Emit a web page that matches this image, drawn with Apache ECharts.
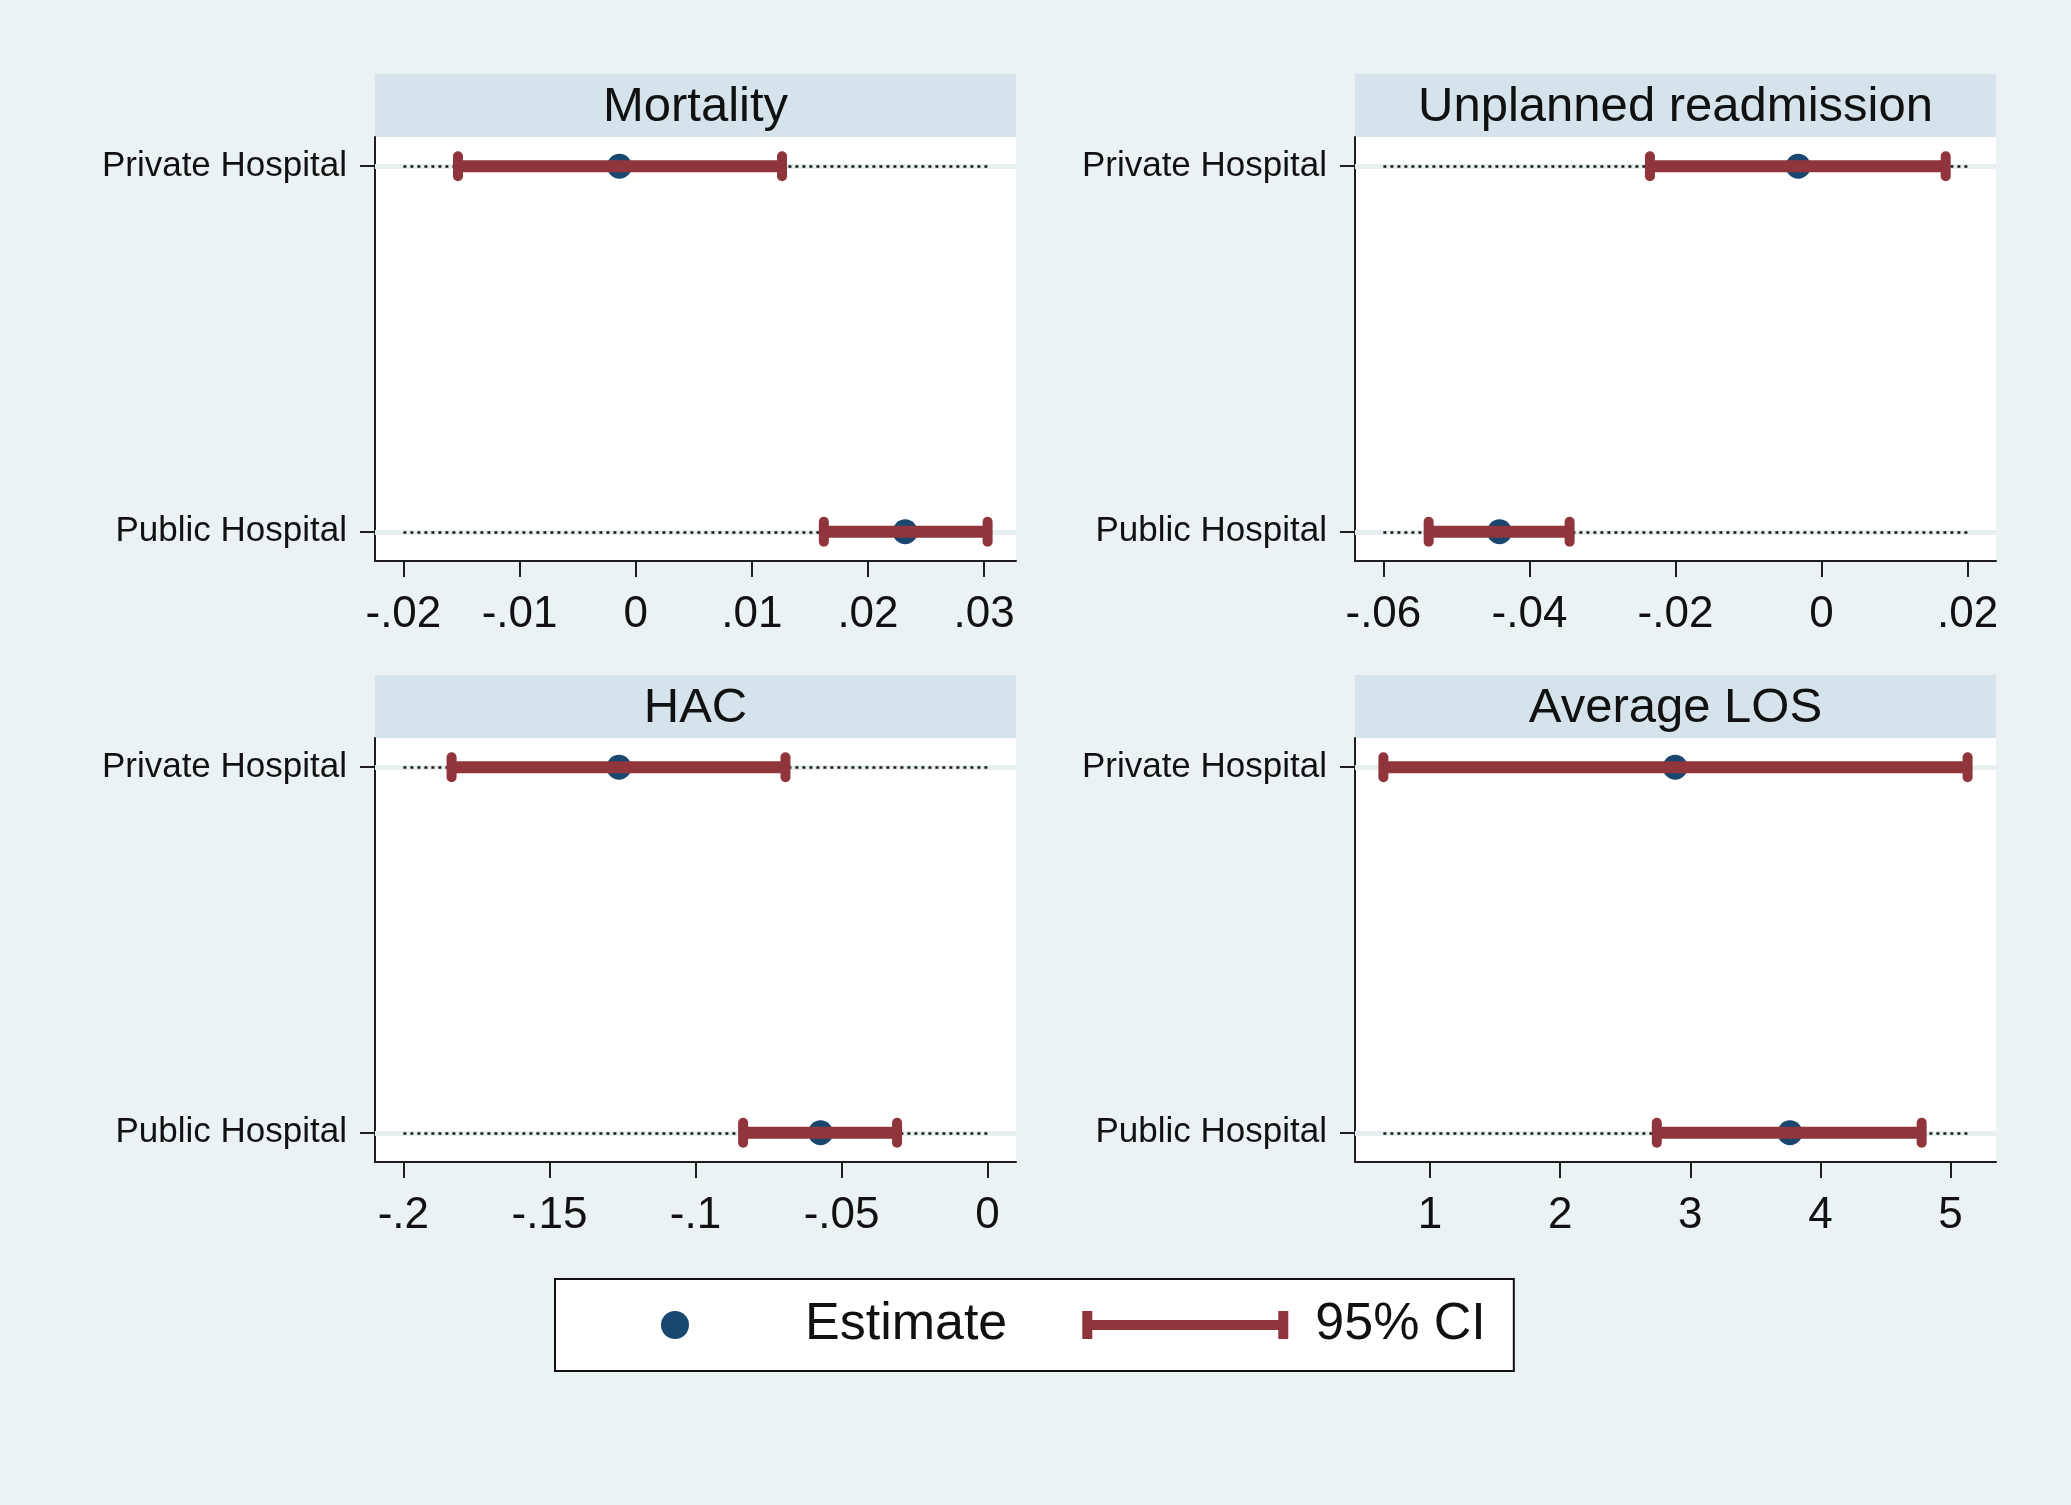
<!DOCTYPE html>
<html>
<head>
<meta charset="utf-8">
<script src="https://cdn.jsdelivr.net/npm/echarts@6/dist/echarts.min.js"></script>
<style>
html,body{margin:0;padding:0;background:#eaf2f3;}
#chart{width:2071px;height:1505px;}
</style>
</head>
<body>
<div id="chart"></div>
<script>
// ---------------- data ----------------
const panelTitles = ['Mortality', 'Unplanned readmission', 'HAC', 'Average LOS'];
const categories = ['Public Hospital', 'Private Hospital']; // y position 0, 1

const mortalityEst  = [0.0232, -0.0014];
const mortalityLow  = [0.0162, -0.0153];
const mortalityHigh = [0.0303, 0.0126];
const mortalityTicks = [-0.02, -0.01, 0, 0.01, 0.02, 0.03];

const readmitEst  = [-0.0441, -0.0032];
const readmitLow  = [-0.0538, -0.0235];
const readmitHigh = [-0.0345, 0.0170];
const readmitTicks = [-0.06, -0.04, -0.02, 0, 0.02];

const hacEst  = [-0.0572, -0.1262];
const hacLow  = [-0.0837, -0.1835];
const hacHigh = [-0.0310, -0.0692];
const hacTicks = [-0.2, -0.15, -0.1, -0.05, 0];

const losEst  = [3.766, 2.884];
const losLow  = [2.743, 0.642];
const losHigh = [4.778, 5.131];
const losTicks = [1, 2, 3, 4, 5];

// ---------------- styling / layout ----------------
const FONT = '"Liberation Sans", Arial, sans-serif';
const NAVY = '#1a476f';
const MAROON = '#90353b';
const INK = '#111111';
const AXIS = '#1e1e1e';

const panels = [
  {est: mortalityEst, low: mortalityLow, high: mortalityHigh, ticks: mortalityTicks},
  {est: readmitEst, low: readmitLow, high: readmitHigh, ticks: readmitTicks},
  {est: hacEst, low: hacLow, high: hacHigh, ticks: hacTicks},
  {est: losEst, low: losLow, high: losHigh, ticks: losTicks}
];
const gridLeft = [375, 1355, 375, 1355];
const gridTop = [137, 137, 738, 738];
const gridW = 641, gridH = 424, stripH = 63;

function stataFmt(v) {
  if (Math.abs(v) < 1e-12) return '0';
  let s = String(+v.toFixed(4));
  return s.replace(/^(-?)0\./, '$1.');
}

const grids = [], xAxes = [], yAxes = [], series = [], graphics = [];

panels.forEach((p, i) => {
  const rMin = Math.min(p.ticks[0], ...p.low);
  const rMax = Math.max(p.ticks[p.ticks.length - 1], ...p.high);
  const pad = (rMax - rMin) * 0.0486;
  const aMin = rMin - pad, aMax = rMax + pad;

  grids.push({left: gridLeft[i], top: gridTop[i], width: gridW, height: gridH,
    show: true, backgroundColor: '#ffffff', borderWidth: 0});

  xAxes.push({
    type: 'value', gridIndex: i, min: aMin, max: aMax,
    axisLine: {show: true, onZero: false, lineStyle: {color: AXIS, width: 2}},
    axisTick: {show: true, customValues: p.ticks, length: 16, lineStyle: {color: AXIS, width: 2}},
    axisLabel: {customValues: p.ticks, formatter: stataFmt, fontSize: 44, color: INK,
      fontFamily: FONT, margin: 32},
    splitLine: {show: false}
  });
  yAxes.push({
    type: 'value', gridIndex: i, min: -0.08, max: 1.08,
    axisLine: {show: true, onZero: false, lineStyle: {color: AXIS, width: 2}},
    axisTick: {show: true, customValues: [0, 1], length: 15, lineStyle: {color: AXIS, width: 2}},
    axisLabel: {customValues: [0, 1], formatter: v => categories[Math.round(v)],
      fontSize: 35, color: INK, fontFamily: FONT, margin: 28, padding: [0, 0, 6, 0]},
    splitLine: {show: false}
  });

  // light grid band at each category
  series.push({
    type: 'lines', coordinateSystem: 'cartesian2d', xAxisIndex: i, yAxisIndex: i,
    silent: true, z: 1,
    lineStyle: {color: '#e8eff1', width: 5, opacity: 1},
    data: categories.map((c, k) => ({coords: [[aMin, k], [aMax, k]]}))
  });
  // dotted reference line across the data range
  series.push({
    type: 'lines', coordinateSystem: 'cartesian2d', xAxisIndex: i, yAxisIndex: i,
    silent: true, z: 2,
    lineStyle: {color: '#1a1a1a', width: 2.5, type: [3, 4], opacity: 1},
    data: categories.map((c, k) => ({coords: [[rMin, k], [rMax, k]]}))
  });
  // point estimates
  series.push({
    name: 'Estimate', type: 'scatter', xAxisIndex: i, yAxisIndex: i, z: 3,
    symbol: 'circle', symbolSize: 25,
    itemStyle: {color: NAVY, opacity: 1},
    data: categories.map((c, k) => [p.est[k], k])
  });
  // confidence intervals
  series.push({
    name: '95% CI', type: 'custom', xAxisIndex: i, yAxisIndex: i, z: 4,
    itemStyle: {color: MAROON},
    encode: {x: [0, 1], y: 2},
    data: categories.map((c, k) => [p.low[k], p.high[k], k]),
    renderItem: function (params, api) {
      const y = api.value(2);
      const a = api.coord([api.value(0), y]);
      const b = api.coord([api.value(1), y]);
      const col = api.visual('color');
      return {
        type: 'group',
        children: [
          {type: 'line', shape: {x1: a[0], y1: a[1], x2: b[0], y2: b[1]},
            style: {stroke: col, lineWidth: 12}},
          {type: 'rect', shape: {x: a[0] - 5, y: a[1] - 15, width: 10, height: 30, r: 5},
            style: {fill: col}},
          {type: 'rect', shape: {x: b[0] - 5, y: b[1] - 15, width: 10, height: 30, r: 5},
            style: {fill: col}}
        ]
      };
    }
  });

  // title strip
  graphics.push({
    type: 'rect', left: gridLeft[i], top: gridTop[i] - stripH, silent: true,
    shape: {width: gridW, height: stripH}, style: {fill: '#d6e3ea'}
  });
  graphics.push({
    type: 'text', x: gridLeft[i] + gridW / 2, y: gridTop[i] - stripH / 2 + 2, silent: true,
    style: {text: panelTitles[i], fontSize: 49, fontFamily: FONT, fill: INK,
      align: 'center', verticalAlign: 'middle'}
  });
});

const chart = echarts.init(document.getElementById('chart'), null, {renderer: 'canvas'});
chart.setOption({
  backgroundColor: '#eaf2f3',
  animation: false,
  grid: grids,
  xAxis: xAxes,
  yAxis: yAxes,
  graphic: graphics,
  legend: {
    left: 555, top: 1279,
    padding: [20, 28, 20, 106],
    itemGap: 75, itemWidth: 230, itemHeight: 28,
    backgroundColor: '#ffffff', borderColor: '#111111', borderWidth: 2,
    selectedMode: false,
    textStyle: {fontSize: 52, color: INK, fontFamily: FONT, padding: [0, 0, 0, 10]},
    data: [
      {name: 'Estimate', icon: 'circle', itemStyle: {color: NAVY, opacity: 1}},
      {name: '95% CI', icon: 'path://M0,0H10V9H196V0H206V28H196V19H10V28H0Z', itemStyle: {color: MAROON}}
    ]
  },
  series: series
});
</script>
</body>
</html>
